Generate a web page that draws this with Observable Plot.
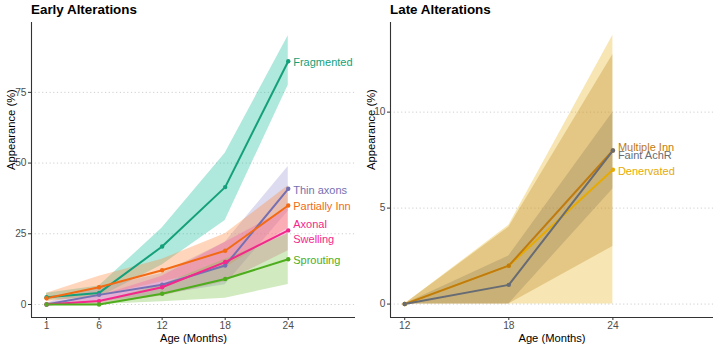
<!DOCTYPE html>
<html>
<head>
<meta charset="utf-8">
<script src="https://cdn.jsdelivr.net/npm/d3@7"></script>
<script src="https://cdn.jsdelivr.net/npm/@observablehq/plot@0.6"></script>
<style>
  body { margin: 0; background: #fff; font-family: "Liberation Sans", Arial, sans-serif; }
  #wrap { position: relative; width: 718px; height: 347px; display: flex; }
  .panel { position: relative; }
  .title { position: absolute; top: 2px; font-weight: bold; font-size: 13.4px; line-height: 16px; color: #000; font-family: "Liberation Sans", Arial, sans-serif; }
</style>
</head>
<body>
<div id="wrap">
  <div class="panel" id="left"><div class="title" style="left:31px">Early Alterations</div></div>
  <div class="panel" id="right"><div class="title" style="left:30px">Late Alterations</div></div>
</div>
<script>
// ---------- Early alterations ----------
const earlyAges = [1, 6, 12, 18, 24];
const earlySeries = ["Fragmented", "Thin axons", "Partially Inn", "Axonal Swelling", "Sprouting"];
const earlyLabels = ["Fragmented", "Thin axons", "Partially Inn", "Axonal\nSwelling", "Sprouting"];
const earlyColors = ["#14A07B", "#7570B3", "#F26A14", "#F5268C", "#4DAD1C"];
const earlyFills  = ["#1ABC9C", "#9C98D0", "#FF8A40", "#F060A8", "#7CC44A"];

const fragmentedMean = [2.6, 4.1, 20.5, 41.5, 86.0];
const fragmentedLow  = [1.5, 2.5, 14.0, 29.7, 77.5];
const fragmentedHigh = [4.0, 6.5, 27.0, 53.5, 95.0];

const thinAxonsMean = [0.0, 3.4, 7.0, 13.8, 40.9];
const thinAxonsLow  = [0.0, 1.0, 3.5, 7.0, 33.0];
const thinAxonsHigh = [0.5, 6.0, 11.0, 22.0, 48.8];

const partiallyMean = [2.2, 6.1, 12.1, 19.0, 35.0];
const partiallyLow  = [1.0, 3.0, 8.0, 13.0, 27.0];
const partiallyHigh = [4.0, 10.0, 16.0, 25.0, 42.0];

const swellingMean = [0.0, 1.2, 6.1, 15.0, 26.2];
const swellingLow  = [0.0, 0.0, 3.0, 8.0, 19.0];
const swellingHigh = [0.5, 3.0, 10.0, 22.0, 34.0];

const sproutingMean = [0.0, 0.0, 3.8, 9.0, 16.0];
const sproutingLow  = [0.0, 0.0, 1.0, 2.2, 7.1];
const sproutingHigh = [0.5, 1.0, 7.0, 16.0, 25.0];

const earlyYTicks = [0, 25, 50, 75];

// ---------- Late alterations ----------
const lateAges = [12, 18, 24];
const lateSeries = ["Denervated", "Multiple Inn", "Faint AchR"];
const lateColors = ["#E6AB02", "#BF7B10", "#676B73"];
const lateFills  = ["#E6AB02", "#B8801A", "#8A7A5A"];
const lateLabelDy = [0, -4, 4];

const denervatedMean = [0, 2, 7];
const denervatedLow  = [0, 0, 0];
const denervatedHigh = [0, 4.1, 14];

const multipleMean = [0, 2, 8];
const multipleLow  = [0, 0, 3];
const multipleHigh = [0, 4, 13];

const faintMean = [0, 1, 8];
const faintLow  = [0, 0, 6];
const faintHigh = [0, 2.5, 10];

const lateYTicks = [0, 5, 10];

// ---------- build tables ----------
function build(ages, series, means, lows, highs) {
  const rows = [];
  series.forEach((s, i) => ages.forEach((a, j) => rows.push({series: s, age: a, mean: means[i][j], lo: lows[i][j], hi: highs[i][j]})));
  return rows;
}
const earlyRows = build(earlyAges, earlySeries,
  [fragmentedMean, thinAxonsMean, partiallyMean, swellingMean, sproutingMean],
  [fragmentedLow, thinAxonsLow, partiallyLow, swellingLow, sproutingLow],
  [fragmentedHigh, thinAxonsHigh, partiallyHigh, swellingHigh, sproutingHigh]);
const lateRows = build(lateAges, lateSeries,
  [denervatedMean, multipleMean, faintMean],
  [denervatedLow, multipleLow, faintLow],
  [denervatedHigh, multipleHigh, faintHigh]);

function panel({rows, series, labels, colors, fills, ages, xDomain, yDomain, yTicks, width, marginLeft, fillOpacity, labelDy}) {
  const last = rows.filter(d => d.age === ages[ages.length - 1]);
  const colorOf = new Map(series.map((s, i) => [s, colors[i]]));
  const fillOf = new Map(series.map((s, i) => [s, fills[i]]));
  const labelOf = new Map(series.map((s, i) => [s, labels[i]]));
  const dyOf = new Map(series.map((s, i) => [s, labelDy ? labelDy[i] : 0]));
  return Plot.plot({
    width, height: 347,
    marginTop: 22, marginBottom: 30, marginLeft, marginRight: 5,
    style: {fontFamily: "Liberation Sans, Arial, sans-serif", background: "transparent"},
    x: {domain: xDomain},
    y: {domain: yDomain},
    marks: [
      Plot.ruleY(yTicks, {stroke: "#cfcfcf", strokeDasharray: "1.2,2.5", strokeWidth: 1}),
      ...series.map(s => Plot.areaY(rows.filter(d => d.series === s), {x: "age", y1: "lo", y2: "hi", fill: fillOf.get(s), fillOpacity})),
      ...series.map(s => Plot.line(rows.filter(d => d.series === s), {x: "age", y: "mean", stroke: colorOf.get(s), strokeWidth: 2})),
      ...series.map(s => Plot.dot(rows.filter(d => d.series === s), {x: "age", y: "mean", fill: colorOf.get(s), r: 2.2})),
      ...series.map(s => Plot.text(last.filter(d => d.series === s), {x: "age", y: "mean", text: () => labelOf.get(s), fill: colorOf.get(s), textAnchor: "start", dx: 5, dy: dyOf.get(s), fontSize: 11, lineHeight: 1.4})),
      Plot.axisX({ticks: ages, tickSize: 3, tickPadding: 1, fontSize: 10.2, color: "#4D4D4D", stroke: "#333", label: null}),
      Plot.axisY({ticks: yTicks, tickSize: 3, tickPadding: 2, fontSize: 10.2, color: "#4D4D4D", stroke: "#333", label: null}),
      Plot.ruleX([xDomain[0]], {stroke: "#333", strokeWidth: 1.1}),
      Plot.ruleY([yDomain[0]], {stroke: "#333", strokeWidth: 1.1}),
      Plot.text(["Appearance (%)"], {frameAnchor: "left", text: d => d, rotate: -90, dx: -(marginLeft - 10.5), fontSize: 11.2, fill: "#000"}),
      Plot.text(["Age (Months)"], {frameAnchor: "bottom", text: d => d, lineAnchor: "middle", dy: 20.5, fontSize: 11.2, fill: "#000"})
    ]
  });
}

const leftSvg = panel({
  rows: earlyRows, series: earlySeries, labels: earlyLabels, colors: earlyColors, fills: earlyFills,
  ages: earlyAges, xDomain: [-0.43, 30.4], yDomain: [-4.6, 99.7], yTicks: earlyYTicks,
  width: 360, marginLeft: 31, fillOpacity: 0.35, labelDy: [0, 0, 0, 0, 0]
});
const rightSvg = panel({
  rows: lateRows, series: lateSeries, labels: lateSeries, colors: lateColors, fills: lateFills,
  ages: lateAges, xDomain: [11.18, 29.8], yDomain: [-0.7, 14.67], yTicks: lateYTicks,
  width: 358, marginLeft: 30, fillOpacity: 0.3, labelDy: lateLabelDy
});
document.getElementById("left").appendChild(leftSvg);
document.getElementById("right").appendChild(rightSvg);
</script>
</body>
</html>
